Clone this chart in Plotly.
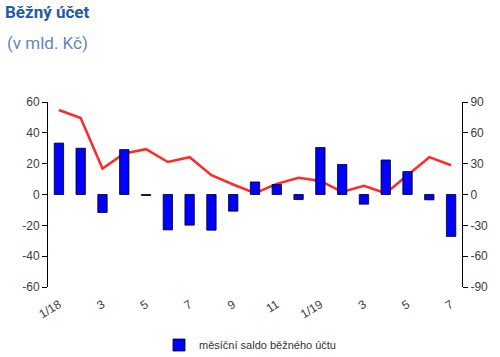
import plotly.graph_objects as go

months = ["1/18", "2/18", "3/18", "4/18", "5/18", "6/18", "7/18", "8/18", "9/18", "10/18",
          "11/18", "12/18", "1/19", "2/19", "3/19", "4/19", "5/19", "6/19", "7/19"]
tick_text = ["1/18", "", "3", "", "5", "", "7", "", "9", "", "11", "", "1/19", "", "3", "", "5", "", "7"]
saldo = [50, 45, -17.5, 43.7, -1, -34.4, -29.8, -34.7, -16.2, 12.2, 9.7, -4.9,
         45.7, 29.2, -9.4, 33.6, 22.3, -5.2, -40.8]
line_vals = [54.8, 49.6, 16.8, 26.6, 29.4, 21.1, 24.2, 12.5, 6.5, 0.8, 6.9, 10.8,
             8.8, 1.7, 5.6, 0.8, 12.5, 24.2, 19.0]
left_ticks = [60, 40, 20, 0, -20, -40, -60]
left_labels = ["60", "40", "20", "0", "-20", "-40", "-60"]
right_ticks = [90, 60, 30, 0, -30, -60, -90]
right_labels = ["90", "60", "30", "0", "-30", "-60", "-90"]

xpos = list(range(len(months)))
W, H = 500, 357
ml, mr, mt, mb = 48, 38, 102, 70
pw, ph = W - ml - mr, H - mt - mb

fig = go.Figure()
fig.add_trace(go.Bar(
    x=xpos, y=saldo, yaxis="y2", xaxis="x",
    name="měsíční saldo běžného účtu",
    marker=dict(color="#0000FF", line=dict(color="#000000", width=0.8)),
    width=0.43, showlegend=True,
))
fig.add_trace(go.Scatter(
    x=xpos, y=line_vals, yaxis="y", xaxis="x",
    mode="lines", line=dict(color="#FF2A2A", width=2.5), showlegend=False,
))

tickfont = dict(family="Liberation Sans, Arial, sans-serif", size=12, color="#404040")
fig.update_layout(
    width=W, height=H,
    margin=dict(l=ml, r=mr, t=mt, b=mb, autoexpand=False),
    paper_bgcolor="white", plot_bgcolor="white",
    bargap=0.57,
    xaxis=dict(
        range=[-0.5, len(months) - 0.5], tickmode="array", tickvals=xpos, ticktext=tick_text,
        tickangle=-32, showline=False, ticks="outside", ticklen=5, tickcolor="rgba(0,0,0,0)",
        showgrid=False, zeroline=False, tickfont=tickfont, automargin=False,
    ),
    xaxis2=dict(
        overlaying="x", anchor="free", position=0.5, side="bottom",
        range=[-0.5, len(months) - 0.5], tickmode="array",
        tickvals=[i + 0.5 for i in xpos[:-1]], showticklabels=False,
        ticks="outside", ticklen=4, tickcolor="#000000", tickwidth=1,
        showline=True, linecolor="#000000", linewidth=1, showgrid=False, zeroline=False,
    ),
    yaxis=dict(
        range=[-60, 60], tickmode="array", tickvals=left_ticks, ticktext=left_labels,
        ticks="outside", ticklen=5, tickcolor="#000000", showline=True,
        linecolor="#000000", linewidth=1, showgrid=False, zeroline=False,
        tickfont=tickfont, automargin=False,
    ),
    yaxis2=dict(
        range=[-90, 90], tickmode="array", tickvals=right_ticks, ticktext=right_labels,
        overlaying="y", side="right", anchor="x",
        ticks="outside", ticklen=5, tickcolor="#000000", showline=True,
        linecolor="#000000", linewidth=1, showgrid=False, zeroline=False,
        tickfont=tickfont, automargin=False,
    ),
    legend=dict(
        orientation="h", xref="container", yref="container",
        x=159 / W, y=1 - 345 / H,
        xanchor="left", yanchor="middle",
        font=dict(family="Liberation Sans, Arial, sans-serif", size=11, color="#333333"),
        bgcolor="rgba(0,0,0,0)",
    ),
    title=dict(
        text="<b>Běžný účet</b>", x=5 / W, xanchor="left", y=1 - 12 / H, yanchor="middle",
        font=dict(family="Roboto, sans-serif", size=17, color="#1F5BAA"),
    ),
    annotations=[dict(
        text="(v mld. Kč)", xref="paper", yref="paper",
        x=(5 - ml) / pw, y=1 + (mt - 43) / ph, xanchor="left", yanchor="middle",
        showarrow=False, font=dict(family="Roboto, sans-serif", size=17, color="#5F86C2"),
    )],
)

fig.write_html("out.html", config={"displayModeBar": False},
               post_script="document.body.style.margin='0';")
